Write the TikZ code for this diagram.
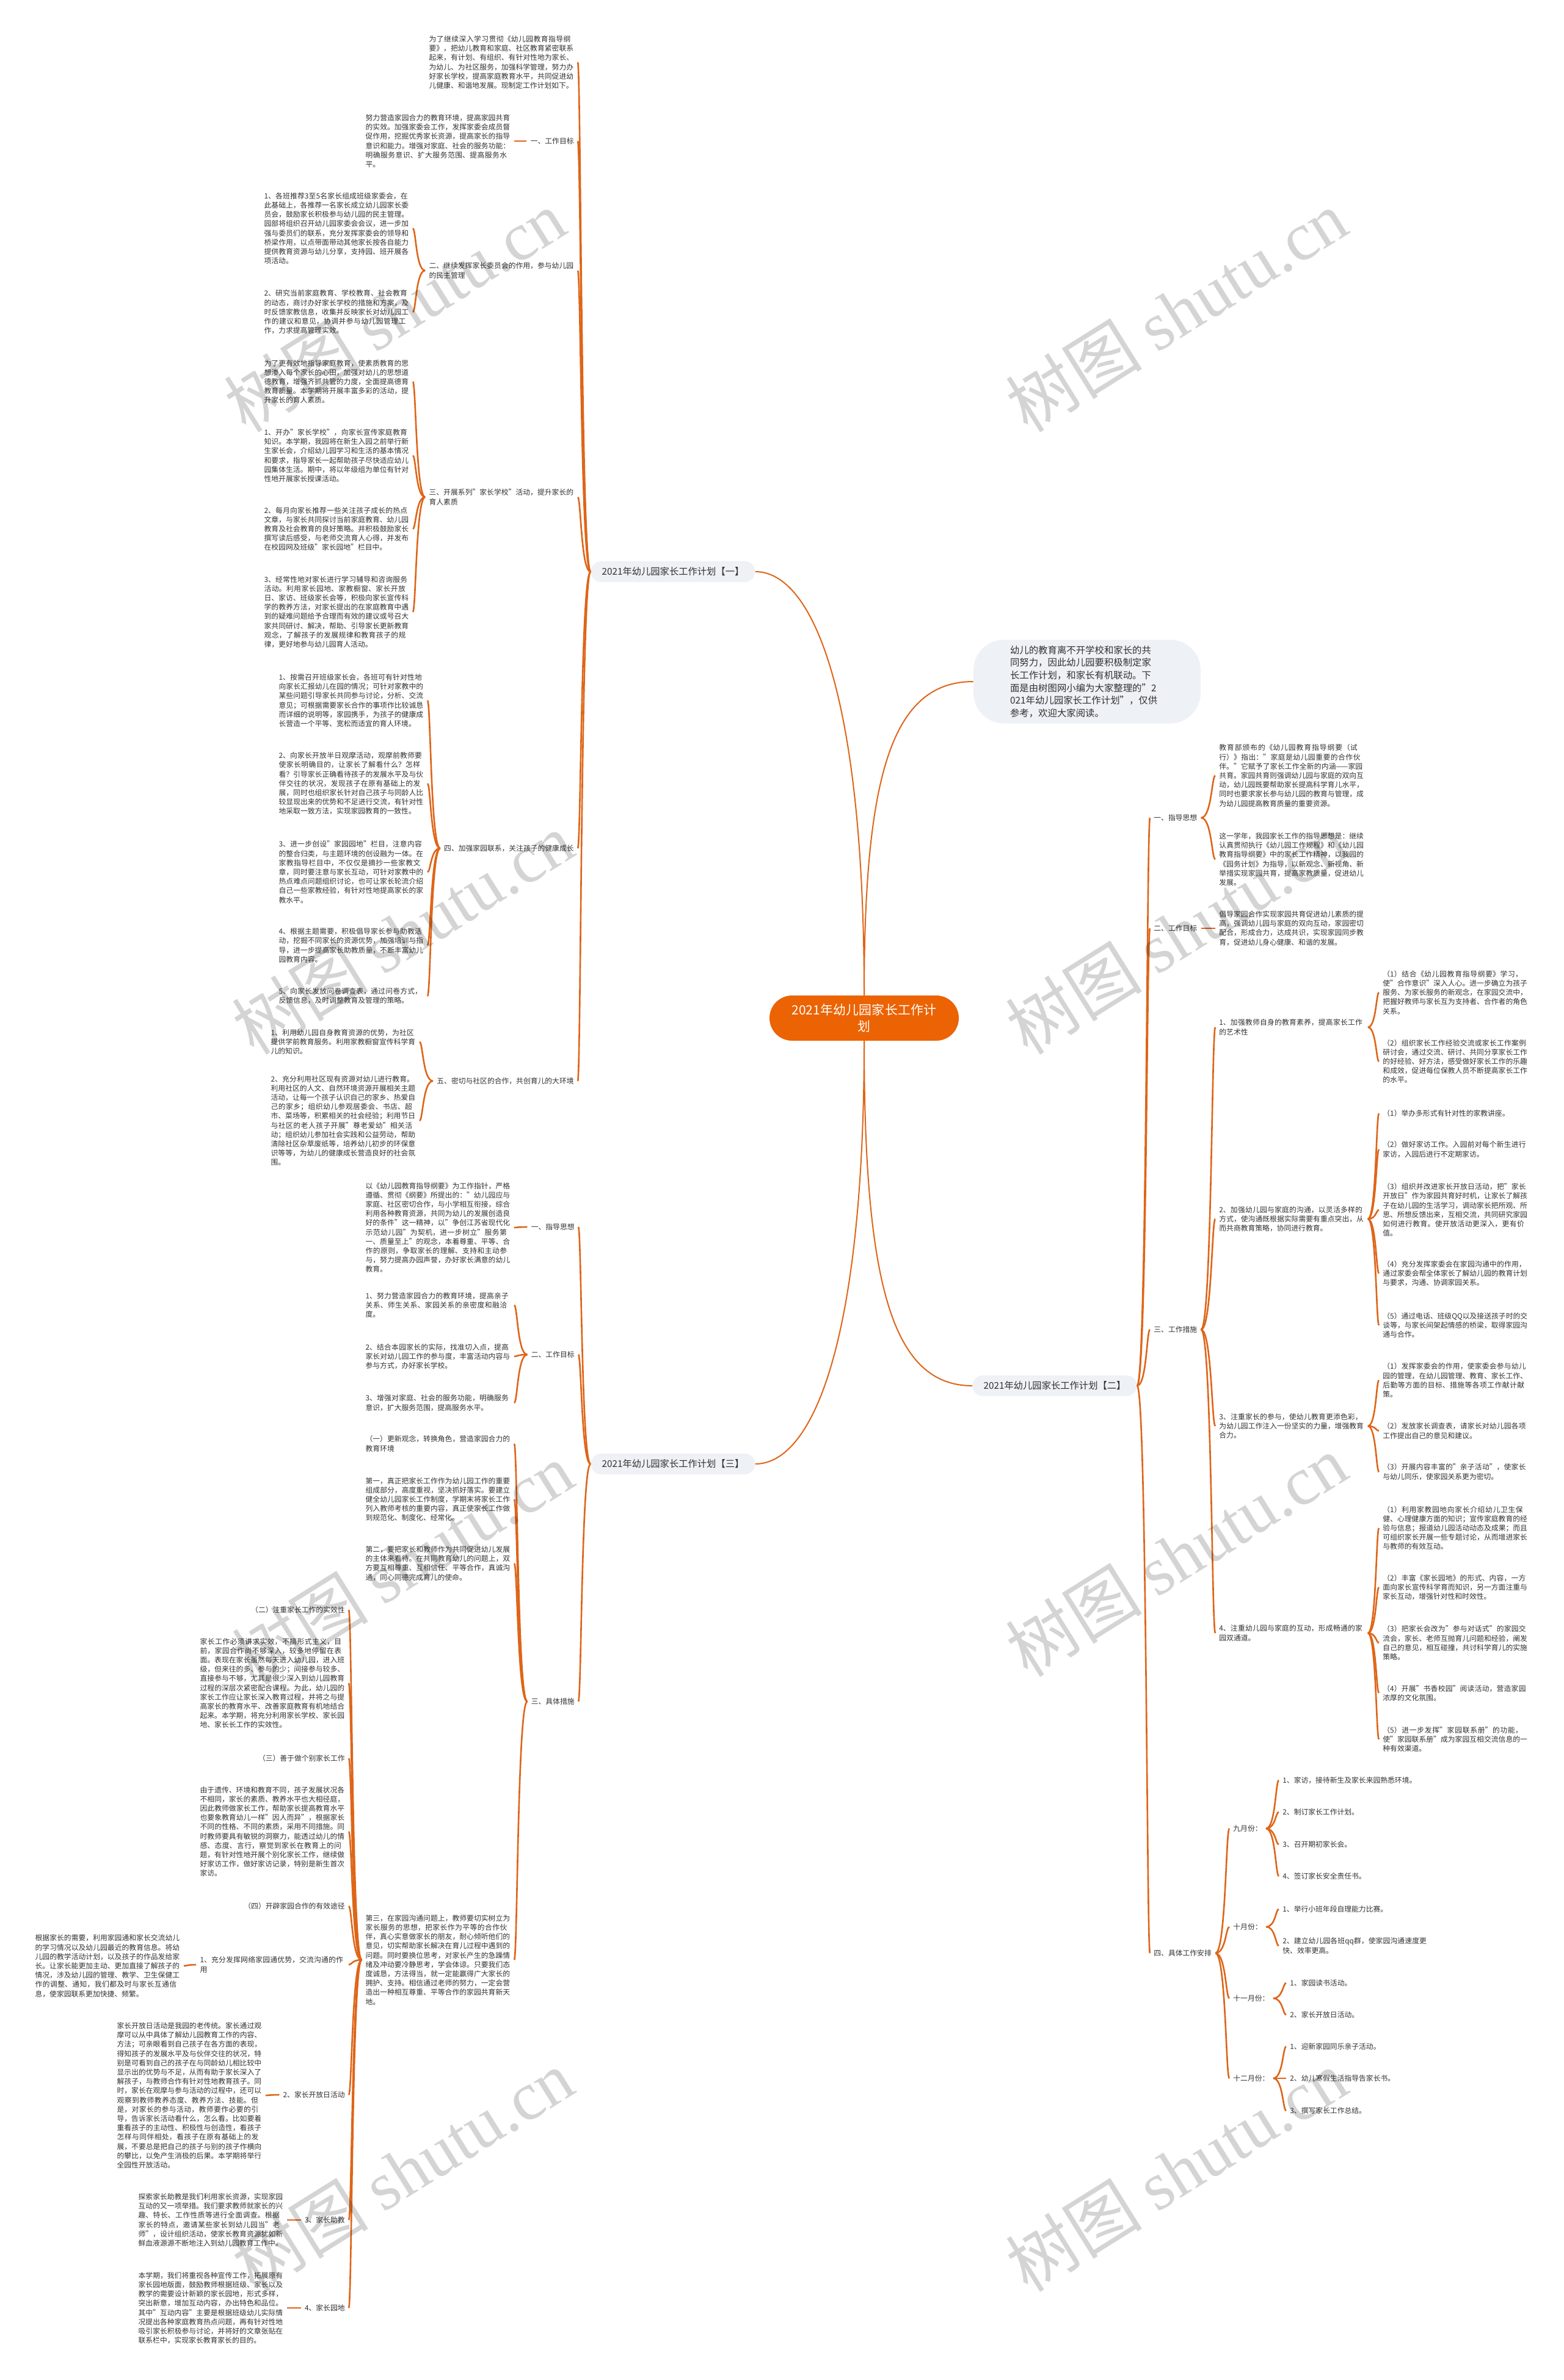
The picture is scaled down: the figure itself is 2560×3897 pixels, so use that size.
\documentclass[tikz,border=0pt]{standalone}
\usepackage{fontspec}
\setmainfont{Noto Sans CJK SC}
\newfontfamily\wmfont{Liberation Serif}
\XeTeXlinebreaklocale "zh"
\XeTeXlinebreakskip=0pt plus 1pt
\usetikzlibrary{calc}
\definecolor{brand}{RGB}{236,99,4}
\definecolor{wire}{RGB}{222,101,24}
\definecolor{pale}{RGB}{238,241,245}
\definecolor{ink}{RGB}{50,50,50}

\begin{document}
\begin{tikzpicture}[x=0.5pt, y=-0.5pt,
  every node/.style={text=ink, inner xsep=3pt, inner ysep=1pt},
  lbl/.style={font=\fontsize{5.9pt}{7.6pt}\selectfont},
  leaf/.style={lbl, text width=118.5pt, align=left},
  bnode/.style={fill=pale, rounded corners=8.5pt, font=\fontsize{7.65pt}{9pt}\selectfont, minimum width=134.5pt, minimum height=17pt},
  hub/.style={fill=brand, text=white, rounded corners=18.5pt, font=\fontsize{10.45pt}{13.3pt}\selectfont, text width=124pt, align=center, inner xsep=15.5pt, minimum height=37pt},
  note/.style={fill=pale, rounded corners=25pt, font=\fontsize{7.7pt}{10.3pt}\selectfont, text width=126pt, align=left, inner xsep=30pt, minimum height=68.5pt},
  link/.style={draw=wire, line width=1.3pt},
  trunk/.style={draw=wire, line width=1pt},
  br/.style={to path={.. controls ($(\tikztostart)!0.75!(\tikztostart -| \tikztotarget)$) and ($(\tikztotarget)!0.25!(\tikztostart |- \tikztotarget)$) .. (\tikztotarget)}},
  wmark/.style={text=black, text opacity=0.17, rotate=32, font=\fontsize{56pt}{60pt}\selectfont}]

  \useasboundingbox (0,0) rectangle (2560,3897);
  \fill[white] (0,0) rectangle (2560,3897);

  % centre, intro and the three plans
  \node[hub] (core) at (1415,1667) {2021年幼儿园家长工作计\\划};
  \node[note] (intro) at (1780,1116) {幼儿的教育离不开学校和家长的共\\同努力，因此幼儿园要积极制定家\\长工作计划，和家长有机联动。下\\面是由树图网小编为大家整理的"2\\021年幼儿园家长工作计划"，仅供\\参考，欢迎大家阅读。};
  \node[bnode] (plan1) at (1102,936) {2021年幼儿园家长工作计划【一】};
  \node[bnode] (plan2) at (1727,2269) {2021年幼儿园家长工作计划【二】};
  \node[bnode] (plan3) at (1102,2397) {2021年幼儿园家长工作计划【三】};

  \draw[trunk] (core.north) .. controls (1415,1134) and (1330,936) .. (plan1.east);
  \draw[trunk] (core.north) .. controls (1415,1270) and (1460,1116) .. (intro.west);
  \draw[trunk] (core.south) .. controls (1415,2100) and (1460,2269) .. (plan2.west);
  \draw[trunk] (core.south) .. controls (1415,2200) and (1330,2397) .. (plan3.east);

  % plan 1
  \node[leaf, anchor=east] (a0) at (946,102) {为了继续深入学习贯彻《幼儿园教育指导纲要》，把幼儿教育和家庭、社区教育紧密联系起来，有计划、有组织、有针对性地为家长、为幼儿、为社区服务，加强科学管理，努力办好家长学校，提高家庭教育水平，共同促进幼儿健康、和谐地发展。现制定工作计划如下。};
  \node[lbl, anchor=east] (a1) at (946,231) {一、工作目标};
  \node[leaf, anchor=east] (a1x) at (842,231) {努力营造家园合力的教育环境，提高家园共育的实效。加强家委会工作，发挥家委会成员督促作用，挖掘优秀家长资源，提高家长的指导意识和能力。增强对家庭、社会的服务功能：明确服务意识、扩大服务范围、提高服务水平。};
  \node[leaf, anchor=east] (a2) at (946,443) {二、继续发挥家长委员会的作用，参与幼儿园的民主管理};
  \node[leaf, anchor=east] (a2a) at (676,374) {1、各班推荐3至5名家长组成班级家委会，在此基础上，各推荐一名家长成立幼儿园家长委员会，鼓励家长积极参与幼儿园的民主管理。园部将组织召开幼儿园家委会会议，进一步加强与委员们的联系，充分发挥家委会的领导和桥梁作用，以点带面带动其他家长按各自能力提供教育资源与幼儿分享，支持园、班开展各项活动。};
  \node[leaf, anchor=east] (a2b) at (676,511) {2、研究当前家庭教育、学校教育、社会教育的动态，商讨办好家长学校的措施和方案，及时反馈家教信息，收集并反映家长对幼儿园工作的建议和意见，协调并参与幼儿园管理工作，力求提高管理实效。};
  \node[leaf, anchor=east] (a3) at (946,814) {三、开展系列"家长学校"活动，提升家长的育人素质};
  \node[leaf, anchor=east] (a3a) at (676,625) {为了更有效地指导家庭教育，使素质教育的思想渗入每个家长的心田，加强对幼儿的思想道德教育，增强齐抓共管的力度，全面提高德育教育质量。本学期将开展丰富多彩的活动，提升家长的育人素质。};
  \node[leaf, anchor=east] (a3b) at (676,746) {1、开办"家长学校"，向家长宣传家庭教育知识。本学期，我园将在新生入园之前举行新生家长会，介绍幼儿园学习和生活的基本情况和要求，指导家长一起帮助孩子尽快适应幼儿园集体生活。期中，将以年级组为单位有针对性地开展家长授课活动。};
  \node[leaf, anchor=east] (a3c) at (676,866) {2、每月向家长推荐一些关注孩子成长的热点文章，与家长共同探讨当前家庭教育、幼儿园教育及社会教育的良好策略。并积极鼓励家长撰写读后感受，与老师交流育人心得，并发布在校园网及班级"家长园地"栏目中。};
  \node[leaf, anchor=east] (a3d) at (676,1002) {3、经常性地对家长进行学习辅导和咨询服务活动。利用家长园地、家教橱窗、家长开放日、家访、班级家长会等，积极向家长宣传科学的教养方法，对家长提出的在家庭教育中遇到的疑难问题给予合理而有效的建议或号召大家共同研讨、解决，帮助、引导家长更新教育观念，了解孩子的发展规律和教育孩子的规律，更好地参与幼儿园育人活动。};
  \node[lbl, anchor=east] (a4) at (946,1389) {四、加强家园联系，关注孩子的健康成长};
  \node[leaf, anchor=east] (a4a) at (700,1147) {1、按需召开班级家长会，各班可有针对性地向家长汇报幼儿在园的情况；可针对家教中的某些问题引导家长共同参与讨论，分析、交流意见；可根据需要家长合作的事项作比较诚恳而详细的说明等，家园携手，为孩子的健康成长营造一个平等、宽松而适宜的育人环境。};
  \node[leaf, anchor=east] (a4b) at (700,1283) {2、向家长开放半日观摩活动，观摩前教师要使家长明确目的，让家长了解看什么？怎样看？引导家长正确看待孩子的发展水平及与伙伴交往的状况，发现孩子在原有基础上的发展，同时也组织家长针对自己孩子与同龄人比较显现出来的优势和不足进行交流，有针对性地采取一致方法，实现家园教育的一致性。};
  \node[leaf, anchor=east] (a4c) at (700,1428) {3、进一步创设"家园园地"栏目，注意内容的整合归类，与主题环境的创设融为一体。在家教指导栏目中，不仅仅是摘抄一些家教文章，同时要注意与家长互动，可针对家教中的热点难点问题组织讨论，也可让家长轮流介绍自己一些家教经验，有针对性地提高家长的家教水平。};
  \node[leaf, anchor=east] (a4d) at (700,1548) {4、根据主题需要，积极倡导家长参与助教活动，挖掘不同家长的资源优势，加强培训与指导，进一步提高家长助教质量，不断丰富幼儿园教育内容。};
  \node[leaf, anchor=east] (a4e) at (700,1631) {5、向家长发放问卷调查表，通过问卷方式，反馈信息，及时调整教育及管理的策略。};
  \node[lbl, anchor=east] (a5) at (946,1770) {五、密切与社区的合作，共创育儿的大环境};
  \node[leaf, anchor=east] (a5a) at (687,1706) {1、利用幼儿园自身教育资源的优势，为社区提供学前教育服务。利用家教橱窗宣传科学育儿的知识。};
  \node[leaf, anchor=east] (a5b) at (687,1835) {2、充分利用社区现有资源对幼儿进行教育。利用社区的人文、自然环境资源开展相关主题活动，让每一个孩子认识自己的家乡、热爱自己的家乡；组织幼儿参观居委会、书店、超市、菜场等，积累相关的社会经验；利用节日与社区的老人孩子开展"尊老爱幼"相关活动；组织幼儿参加社会实践和公益劳动，帮助清除社区杂草废纸等，培养幼儿初步的环保意识等等，为幼儿的健康成长营造良好的社会氛围。};

  \foreach \c in {a0,a1,a2,a3,a4,a5}
    \draw[link] (plan1.west) to[br] (\c.east);
  \draw[link] (a1.west) to[br] (a1x.east);
  \foreach \c in {a2a,a2b}
    \draw[link] (a2.west) to[br] (\c.east);
  \foreach \c in {a3a,a3b,a3c,a3d}
    \draw[link] (a3.west) to[br] (\c.east);
  \foreach \c in {a4a,a4b,a4c,a4d,a4e}
    \draw[link] (a4.west) to[br] (\c.east);
  \foreach \c in {a5a,a5b}
    \draw[link] (a5.west) to[br] (\c.east);

  % plan 3
  \node[lbl, anchor=east] (c1) at (947,2009) {一、指导思想};
  \node[leaf, anchor=east] (c1x) at (842,2010) {以《幼儿园教育指导纲要》为工作指针，严格遵循、贯彻《纲要》所提出的："幼儿园应与家庭、社区密切合作，与小学相互衔接，综合利用各种教育资源，共同为幼儿的发展创造良好的条件"这一精神，以"争创江苏省现代化示范幼儿园"为契机，进一步树立"服务第一、质量至上"的观念，本着尊重、平等、合作的原则，争取家长的理解、支持和主动参与，努力提高办园声誉，办好家长满意的幼儿教育。};
  \node[lbl, anchor=east] (c2) at (947,2218) {二、工作目标};
  \node[leaf, anchor=east] (c2a) at (842,2137) {1、努力营造家园合力的教育环境，提高亲子关系、师生关系、家园关系的亲密度和融洽度。};
  \node[leaf, anchor=east] (c2b) at (842,2221) {2、结合本园家长的实际，找准切入点，提高家长对幼儿园工作的参与度，丰富活动内容与参与方式，办好家长学校。};
  \node[leaf, anchor=east] (c2c) at (842,2297) {3、增强对家庭、社会的服务功能，明确服务意识，扩大服务范围，提高服务水平。};
  \node[lbl, anchor=east] (c3) at (947,2786) {三、具体措施};
  \node[leaf, anchor=east] (c3a) at (842,2364) {（一）更新观念，转换角色，营造家园合力的教育环境};
  \node[leaf, anchor=east] (c3b) at (842,2455) {第一，真正把家长工作作为幼儿园工作的重要组成部分，高度重视，坚决抓好落实。要建立健全幼儿园家长工作制度，学期末将家长工作列入教师考核的重要内容，真正使家长工作做到规范化、制度化、经常化。};
  \node[leaf, anchor=east] (c3c) at (842,2560) {第二，要把家长和教师作为共同促进幼儿发展的主体来看待。在共同教育幼儿的问题上，双方要互相尊重、互相信任、平等合作，真诚沟通，同心同德完成育儿的使命。};
  \node[leaf, anchor=east] (c3d) at (842,3209) {第三，在家园沟通问题上，教师要切实树立为家长服务的思想，把家长作为平等的合作伙伴，真心实意做家长的朋友，耐心倾听他们的意见，切实帮助家长解决在育儿过程中遇到的问题。同时要换位思考，对家长产生的急躁情绪及冲动要冷静思考，学会体谅。只要我们态度诚恳，方法得当，就一定能赢得广大家长的拥护、支持。相信通过老师的努力，一定会营造出一种相互尊重、平等合作的家园共育新天地。};
  \node[lbl, anchor=east] (d1) at (571,2636) {（二）注重家长工作的实效性};
  \node[leaf, anchor=east] (d2) at (571,2756) {家长工作必须讲求实效，不搞形式主义，目前，家园合作尚不够深入，较多地停留在表面。表现在家长虽然每天进入幼儿园，进入班级，但来往的多、参与的少；间接参与较多、直接参与不够，尤其是很少深入到幼儿园教育过程的深层次紧密配合课程。为此，幼儿园的家长工作应让家长深入教育过程，并将之与提高家长的教育水平、改善家庭教育有机地结合起来。本学期，将充分利用家长学校、家长园地、家长长工作的实效性。};
  \node[lbl, anchor=east] (d3) at (571,2879) {（三）善于做个别家长工作};
  \node[leaf, anchor=east] (d4) at (571,2999) {由于遗传、环境和教育不同，孩子发展状况各不相同，家长的素质、教养水平也大相径庭，因此教师做家长工作，帮助家长提高教育水平也要象教育幼儿一样"因人而异"，根据家长不同的性格、不同的素质，采用不同措施。同时教师要具有敏锐的洞察力，能透过幼儿的情感、态度、言行，察觉到家长在教育上的问题，有针对性地开展个别化家长工作，继续做好家访工作，做好家访记录，特别是新生首次家访。};
  \node[lbl, anchor=east] (d5) at (571,3121) {（四）开辟家园合作的有效途径};
  \node[leaf, anchor=east] (d6) at (571,3217) {1、充分发挥网络家园通优势，交流沟通的作用};
  \node[leaf, anchor=east] (d6x) at (301,3219) {根据家长的需要，利用家园通和家长交流幼儿的学习情况以及幼儿园最近的教育信息。将幼儿园的教学活动计划，以及孩子的作品发给家长。让家长能更加主动、更加直接了解孩子的情况，涉及幼儿园的管理、教学、卫生保健工作的调整、通知，我们都及时与家长互通信息，使家园联系更加快捷、频繁。};
  \node[lbl, anchor=east] (d7) at (571,3430) {2、家长开放日活动};
  \node[leaf, anchor=east] (d7x) at (435,3431) {家长开放日活动是我园的老传统。家长通过观摩可以从中具体了解幼儿园教育工作的内容、方法；可亲眼看到自己孩子在各方面的表现，得知孩子的发展水平及与伙伴交往的状况，特别是可看到自己的孩子在与同龄幼儿相比较中显示出的优势与不足，从而有助于家长深入了解孩子，与教师合作有针对性地教育孩子。同时，家长在观摩与参与活动的过程中，还可以观察到教师教养态度、教养方法、技能。但是，对家长的参与活动，教师要作必要的引导，告诉家长活动看什么，怎么看。比如要着重看孩子的主动性、积极性与创造性，看孩子怎样与同伴相处，看孩子在原有基础上的发展，不要总是把自己的孩子与别的孩子作横向的攀比，以免产生消极的后果。本学期将举行全园性开放活动。};
  \node[lbl, anchor=east] (d8) at (571,3635) {3、家长助教};
  \node[leaf, anchor=east] (d8x) at (470,3635) {探索家长助教是我们利用家长资源，实现家园互动的又一项举措。我们要求教师就家长的兴趣、特长、工作性质等进行全面调查。根据家长的特点，邀请某些家长到幼儿园当"老师"，设计组织活动，使家长教育资源犹如新鲜血液源源不断地注入到幼儿园教育工作中。};
  \node[lbl, anchor=east] (d9) at (571,3779) {4、家长园地};
  \node[leaf, anchor=east] (d9x) at (470,3779) {本学期，我们将重视各种宣传工作，拓展原有家长园地版面，鼓励教师根据班级、家长以及教学的需要设计新颖的家长园地，形式多样，突出新意，增加互动内容，办出特色和品位。其中"互动内容"主要是根据班级幼儿实际情况提出各种家庭教育热点问题，再有针对性地吸引家长积极参与讨论，并将好的文章张贴在联系栏中，实现家长教育家长的目的。};

  \foreach \c in {c1,c2,c3}
    \draw[link] (plan3.west) to[br] (\c.east);
  \draw[link] (c1.west) to[br] (c1x.east);
  \foreach \c in {c2a,c2b,c2c}
    \draw[link] (c2.west) to[br] (\c.east);
  \foreach \c in {c3a,c3b,c3c,c3d}
    \draw[link] (c3.west) to[br] (\c.east);
  \foreach \c in {d1,d2,d3,d4,d5,d6,d7,d8,d9}
    \draw[link] (c3d.west) to[br] (\c.east);
  \foreach \c in {d6,d7,d8,d9}
    \draw[link] (\c.west) to[br] (\c x.east);

  % plan 2
  \node[lbl, anchor=west] (b1) at (1883,1339) {一、指导思想};
  \node[leaf, anchor=west] (b1a) at (1990,1270) {教育部颁布的《幼儿园教育指导纲要（试行）》指出："家庭是幼儿园重要的合作伙伴。"它赋予了家长工作全新的内涵——家园共育。家园共育则强调幼儿园与家庭的双向互动，幼儿园既要帮助家长提高科学育儿水平，同时也要求家长参与幼儿园的教育与管理，成为幼儿园提高教育质量的重要资源。};
  \node[leaf, anchor=west] (b1b) at (1990,1407) {这一学年，我园家长工作的指导思想是：继续认真贯彻执行《幼儿园工作规程》和《幼儿园教育指导纲要》中的家长工作精神，以我园的《园务计划》为指导，以新观念、新视角、新举措实现家园共育，提高家教质量，促进幼儿发展。};
  \node[lbl, anchor=west] (b2) at (1883,1520) {二、工作目标};
  \node[leaf, anchor=west] (b2x) at (1990,1520) {倡导家园合作实现家园共育促进幼儿素质的提高，强调幼儿园与家庭的双向互动，家园密切配合，形成合力，达成共识，实现家园同步教育，促进幼儿身心健康、和谐的发展。};
  \node[lbl, anchor=west] (b3) at (1883,2177) {三、工作措施};
  \node[leaf, anchor=west] (b3a) at (1990,1682) {1、加强教师自身的教育素养，提高家长工作的艺术性};
  \node[leaf, anchor=west] (b3a1) at (2258,1625) {（1）结合《幼儿园教育指导纲要》学习，使"合作意识"深入人心。进一步确立为孩子服务、为家长服务的新观念，在家园交流中，把握好教师与家长互为支持者、合作者的角色关系。};
  \node[leaf, anchor=west] (b3a2) at (2258,1738) {（2）组织家长工作经验交流或家长工作案例研讨会，通过交流、研讨、共同分享家长工作的好经验、好方法，感受做好家长工作的乐趣和成效，促进每位保教人员不断提高家长工作的水平。};
  \node[leaf, anchor=west] (b3b) at (1990,1996) {2、加强幼儿园与家庭的沟通，以灵活多样的方式，使沟通既根据实际需要有重点突出，从而共商教育策略，协同进行教育。};
  \node[leaf, anchor=west] (b3b1) at (2258,1823) {（1）举办多形式有针对性的家教讲座。};
  \node[leaf, anchor=west] (b3b2) at (2258,1882) {（2）做好家访工作。入园前对每个新生进行家访，入园后进行不定期家访。};
  \node[leaf, anchor=west] (b3b3) at (2258,1981) {（3）组织并改进家长开放日活动，把"家长开放日"作为家园共育好时机，让家长了解孩子在幼儿园的生活学习，调动家长把所观、所思、所想反馈出来，互相交流，共同研究家园如何进行教育。使开放活动更深入，更有价值。};
  \node[leaf, anchor=west] (b3b4) at (2258,2085) {（4）充分发挥家委会在家园沟通中的作用，通过家委会帮全体家长了解幼儿园的教育计划与要求，沟通、协调家园关系。};
  \node[leaf, anchor=west] (b3b5) at (2258,2170) {（5）通过电话、班级QQ以及接送孩子时的交谈等，与家长间架起情感的桥梁，取得家园沟通与合作。};
  \node[leaf, anchor=west] (b3c) at (1990,2335) {3、注重家长的参与，使幼儿教育更添色彩，为幼儿园工作注入一份坚实的力量，增强教育合力。};
  \node[leaf, anchor=west] (b3c1) at (2258,2260) {（1）发挥家委会的作用，使家委会参与幼儿园的管理，在幼儿园管理、教育、家长工作、后勤等方面的目标、措施等各项工作献计献策。};
  \node[leaf, anchor=west] (b3c2) at (2258,2343) {（2）发放家长调查表，请家长对幼儿园各项工作提出自己的意见和建议。};
  \node[leaf, anchor=west] (b3c3) at (2258,2410) {（3）开展内容丰富的"亲子活动"，使家长与幼儿同乐，使家园关系更为密切。};
  \node[leaf, anchor=west] (b3d) at (1990,2674) {4、注重幼儿园与家庭的互动，形成畅通的家园双通道。};
  \node[leaf, anchor=west] (b3d1) at (2258,2502) {（1）利用家教园地向家长介绍幼儿卫生保健、心理健康方面的知识；宣传家庭教育的经验与信息；报道幼儿园活动动态及成果；而且可组织家长开展一些专题讨论，从而增进家长与教师的有效互动。};
  \node[leaf, anchor=west] (b3d2) at (2258,2599) {（2）丰富《家长园地》的形式、内容，一方面向家长宣传科学育而知识，另一方面注重与家长互动，增强针对性和时效性。};
  \node[leaf, anchor=west] (b3d3) at (2258,2690) {（3）把家长会改为"参与对话式"的家园交流会，家长、老师互抛育儿问题和经验，阐发自己的意见，相互碰撞，共讨科学育儿的实施策略。};
  \node[leaf, anchor=west] (b3d4) at (2258,2772) {（4）开展"书香校园"阅读活动，营造家园浓厚的文化氛围。};
  \node[leaf, anchor=west] (b3d5) at (2258,2848) {（5）进一步发挥"家园联系册"的功能，使"家园联系册"成为家园互相交流信息的一种有效渠道。};
  \node[lbl, anchor=west] (b4) at (1883,3198) {四、具体工作安排};
  \node[lbl, anchor=west] (m9) at (2013,2994) {九月份：};
  \node[lbl, anchor=west] (m9a) at (2094,2915) {1、家访，接待新生及家长来园熟悉环境。};
  \node[lbl, anchor=west] (m9b) at (2094,2967) {2、制订家长工作计划。};
  \node[lbl, anchor=west] (m9c) at (2094,3020) {3、召开期初家长会。};
  \node[lbl, anchor=west] (m9d) at (2094,3072) {4、签订家长安全责任书。};
  \node[lbl, anchor=west] (m10) at (2013,3155) {十月份：};
  \node[lbl, anchor=west] (m10a) at (2094,3126) {1、举行小班年段自理能力比赛。};
  \node[leaf, anchor=west] (m10b) at (2094,3186) {2、建立幼儿园各班qq群，使家园沟通速度更快、效率更高。};
  \node[lbl, anchor=west] (m11) at (2013,3272) {十一月份：};
  \node[lbl, anchor=west] (m11a) at (2106,3247) {1、家园读书活动。};
  \node[lbl, anchor=west] (m11b) at (2106,3299) {2、家长开放日活动。};
  \node[lbl, anchor=west] (m12) at (2013,3403) {十二月份：};
  \node[lbl, anchor=west] (m12a) at (2106,3351) {1、迎新家园同乐亲子活动。};
  \node[lbl, anchor=west] (m12b) at (2106,3403) {2、幼儿寒假生活指导告家长书。};
  \node[lbl, anchor=west] (m12c) at (2106,3456) {3、撰写家长工作总结。};

  \foreach \c in {b1,b2,b3,b4}
    \draw[link] (plan2.east) to[br] (\c.west);
  \foreach \c in {b1a,b1b}
    \draw[link] (b1.east) to[br] (\c.west);
  \draw[link] (b2.east) to[br] (b2x.west);
  \foreach \c in {b3a,b3b,b3c,b3d}
    \draw[link] (b3.east) to[br] (\c.west);
  \foreach \c in {b3a1,b3a2}
    \draw[link] (b3a.east) to[br] (\c.west);
  \foreach \c in {b3b1,b3b2,b3b3,b3b4,b3b5}
    \draw[link] (b3b.east) to[br] (\c.west);
  \foreach \c in {b3c1,b3c2,b3c3}
    \draw[link] (b3c.east) to[br] (\c.west);
  \foreach \c in {b3d1,b3d2,b3d3,b3d4,b3d5}
    \draw[link] (b3d.east) to[br] (\c.west);
  \foreach \c in {m9,m10,m11,m12}
    \draw[link] (b4.east) to[br] (\c.west);
  \foreach \c in {m9a,m9b,m9c,m9d}
    \draw[link] (m9.east) to[br] (\c.west);
  \foreach \c in {m10a,m10b}
    \draw[link] (m10.east) to[br] (\c.west);
  \foreach \c in {m11a,m11b}
    \draw[link] (m11.east) to[br] (\c.west);
  \foreach \c in {m12a,m12b,m12c}
    \draw[link] (m12.east) to[br] (\c.west);

  % watermark
  \foreach \x/\y in {646/509,1926/509,659/1528,1926/1528,659/2560,1926/2547,659/3554,1926/3554}
    \node[wmark] (wm\x) at (\x,\y) {树图 {\wmfont shutu.cn}};
\end{tikzpicture}
\end{document}
